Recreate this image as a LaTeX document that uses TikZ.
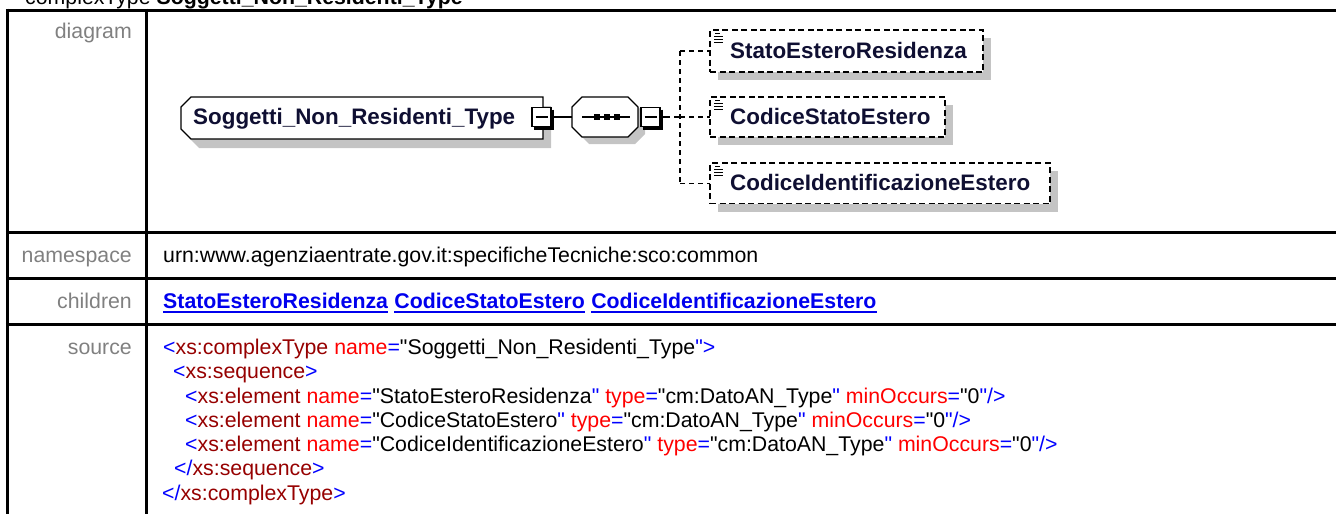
\documentclass[tikz,border=0pt]{standalone}
\usepackage{fontspec}
\newfontfamily\lsans{Liberation Sans}
\usetikzlibrary{calc}
\definecolor{xblue}{RGB}{0,0,255}
\definecolor{xdred}{RGB}{150,0,0}
\definecolor{xred}{RGB}{255,0,0}
\definecolor{lblgray}{RGB}{128,128,128}
\definecolor{shgray}{RGB}{196,196,196}
\definecolor{linkblue}{RGB}{0,0,238}
\definecolor{dtext}{RGB}{15,15,50}
\newcommand\tfont{\lsans\fontsize{21.3}{24.3}\selectfont}
\newcommand\dfont{\lsans\fontsize{22.4}{26}\selectfont\bfseries}
\newcommand\xop[1]{\textcolor{xblue}{<}\textcolor{xdred}{#1}}
\newcommand\xcl[1]{\textcolor{xblue}{</}\textcolor{xdred}{#1}\textcolor{xblue}{>}}
\newcommand\xat[2]{\textcolor{xred}{#1}\textcolor{xblue}{=}"#2\textcolor{xblue}{"}}
\pgfdeclarelayer{bg}
\pgfsetlayers{bg,main}
\begin{document}
\begin{tikzpicture}[x=1pt,y=-1pt,
  tbl/.style={line width=3pt,black},
  lbl/.style={anchor=base east,inner sep=0,text=lblgray,font=\tfont},
  txt/.style={anchor=base west,inner sep=0,font=\tfont},
  lnk/.style={anchor=base west,inner sep=0,font=\tfont\bfseries,text=linkblue},
  ulink/.style={line width=1.6pt,linkblue},
  ghost/.style={inner sep=0,outer sep=0,draw=none},
  boxline/.style={line width=1.2pt,black},
  dtxt/.style={anchor=base west,inner sep=0,font=\dfont,text=dtext},
  childbox/.style={draw,line width=1.2pt,dash pattern=on 6pt off 3.5pt,fill=white,inner sep=0,outer sep=0,anchor=north west},
  minusbox/.style={draw,line width=1.2pt,fill=white,inner sep=0,outer sep=0,minimum width=19,minimum height=19},
  conn/.style={line width=1.2pt,black},
  dconn/.style={line width=1.2pt,black,dash pattern=on 5pt off 4pt},
  shadowfill/.style={fill=shgray}
]
\useasboundingbox (0,0) rectangle (1336,514);
\clip (0,0) rectangle (1336,514);

% ---------- table ----------
\draw[tbl] (5.8,10) -- (1345,10);
\draw[tbl] (5.8,232.7) -- (1345,232.7);
\draw[tbl] (5.8,278.7) -- (1345,278.7);
\draw[tbl] (5.8,324.7) -- (1345,324.7);
\draw[tbl] (7.3,8.5) -- (7.3,520);
\draw[tbl] (146.7,8.5) -- (146.7,520);

\node[txt] (hdr) at (25,5) {complexType \textbf{Soggetti\_Non\_Residenti\_Type}};

\node[lbl] (ldiag) at (132,38.7) {diagram};
\node[lbl] (lns) at (132,262.8) {namespace};
\node[lbl] (lch) at (132,308.8) {children};
\node[lbl] (lsrc) at (132,354.4) {source};

\node[txt] (ns) at (163,262.8) {urn:www.agenziaentrate.gov.it:specificheTecniche:sco:common};

\node[lnk] (ch1) at (163,308.8) {StatoEsteroResidenza};
\node[lnk] (ch2) at ($(ch1.base east)+(5.9,0)$) {CodiceStatoEstero};
\node[lnk] (ch3) at ($(ch2.base east)+(5.9,0)$) {CodiceIdentificazioneEstero};
\foreach \n in {ch1,ch2,ch3}{
  \draw[ulink] ($(\n.base west)+(0,3)$) -- ($(\n.base east)+(0,3)$);
}

\node[txt] (s1) at (163,354.4) {\xop{xs:complexType} \xat{name}{Soggetti\_Non\_Residenti\_Type}\textcolor{xblue}{>}};
\node[txt] (s2) at (173,378.7) {\xop{xs:sequence}\textcolor{xblue}{>}};
\node[txt] (s3) at (185,403.0) {\xop{xs:element} \xat{name}{StatoEsteroResidenza} \xat{type}{cm:DatoAN\_Type} \xat{minOccurs}{0}\textcolor{xblue}{/>}};
\node[txt] (s4) at (185,427.3) {\xop{xs:element} \xat{name}{CodiceStatoEstero} \xat{type}{cm:DatoAN\_Type} \xat{minOccurs}{0}\textcolor{xblue}{/>}};
\node[txt] (s5) at (185,451.6) {\xop{xs:element} \xat{name}{CodiceIdentificazioneEstero} \xat{type}{cm:DatoAN\_Type} \xat{minOccurs}{0}\textcolor{xblue}{/>}};
\node[txt] (s6) at (174,475.9) {\xcl{xs:sequence}};
\node[txt] (s7) at (162,500.2) {\xcl{xs:complexType}};

% ---------- diagram ----------
\node[ghost,minimum width=362,minimum height=42] (root) at (362,118) {};
\node[ghost,minimum width=66,minimum height=40] (seq) at (605,117) {};

\begin{pgfonlayer}{bg}
  \fill[shadowfill] ($(root.north west)+(18,9)$) -- ($(root.north east)+(8,9)$) -- ($(root.south east)+(8,9)$)
    -- ($(root.south west)+(18,9)$) -- ($(root.south west)+(8,-1)$) -- ($(root.north west)+(8,19)$) -- cycle;
  \fill[shadowfill] ($(seq.north west)+(17,7)$) -- ($(seq.north east)+(-3,7)$) -- ($(seq.north east)+(7,17)$)
    -- ($(seq.south east)+(7,-3)$) -- ($(seq.south east)+(-3,7)$) -- ($(seq.south west)+(17,7)$)
    -- ($(seq.south west)+(7,-3)$) -- ($(seq.north west)+(7,17)$) -- cycle;
\end{pgfonlayer}

\draw[boxline,fill=white] ($(root.north west)+(10,0)$) -- (root.north east) -- (root.south east)
  -- ($(root.south west)+(10,0)$) -- ($(root.south west)+(0,-10)$) -- ($(root.north west)+(0,10)$) -- cycle;
\node[dtxt] (roottxt) at (193,124.5) {Soggetti\_Non\_Residenti\_Type};

\draw[boxline,fill=white] ($(seq.north west)+(10,0)$) -- ($(seq.north east)+(-10,0)$) -- ($(seq.north east)+(0,10)$)
  -- ($(seq.south east)+(0,-10)$) -- ($(seq.south east)+(-10,0)$) -- ($(seq.south west)+(10,0)$)
  -- ($(seq.south west)+(0,-10)$) -- ($(seq.north west)+(0,10)$) -- cycle;
\coordinate (sqa) at ($(seq.west)+(10,0)$);
\coordinate (sqb) at ($(seq.east)+(-8,0)$);
\draw[conn] (sqa) -- (sqb);
\foreach \dx in {-8,2,12}{
  \fill ($(seq.center)+(\dx-2.7,-2.7)$) rectangle ($(seq.center)+(\dx+2.7,2.7)$);
}

\node[minusbox] (mb1) at (541.5,117) {};
\node[minusbox] (mb2) at (650.5,117) {};
\draw[conn] (mb1.east) -- (seq.west);
\foreach \m in {mb1,mb2}{
  \draw[line width=3pt] ($(\m.north east)+(1.5,2)$) -- ($(\m.south east)+(1.5,1.5)$) -- ($(\m.south west)+(2,1.5)$);
  \draw[line width=1.3pt] ($(\m.center)+(-6,0)$) -- ($(\m.center)+(6,0)$);
}

\node[childbox,minimum width=273,minimum height=42] (c1) at (710,30) {};
\node[childbox,minimum width=235,minimum height=40] (c2) at (710,97) {};
\node[childbox,minimum width=340,minimum height=40.5] (c3) at (710,163) {};
\begin{pgfonlayer}{bg}
  \foreach \c in {c1,c2,c3}{
    \fill[shadowfill] ($(\c.north west)+(8,8)$) rectangle ($(\c.south east)+(8,8)$);
  }
\end{pgfonlayer}
\node[dtxt] (t1) at (730,58.3) {StatoEsteroResidenza};
\node[dtxt] (t2) at (730,124) {CodiceStatoEstero};
\node[dtxt] (t3) at (730,190) {CodiceIdentificazioneEstero};
\foreach \c in {c1,c2,c3}{
  \draw[line width=1pt] ($(\c.north west)+(5,3.5)$) -- ($(\c.north west)+(10,3.5)$);
  \draw[line width=1pt] ($(\c.north west)+(4,6.5)$) -- ($(\c.north west)+(13,6.5)$);
  \draw[line width=1pt] ($(\c.north west)+(4,9.5)$) -- ($(\c.north west)+(13,9.5)$);
  \draw[line width=1pt] ($(\c.north west)+(4,12.5)$) -- ($(\c.north west)+(13,12.5)$);
}

\coordinate (j1) at ($(c1.west)+(-30,0)$);
\coordinate (j2) at ($(c2.west)+(-30,0)$);
\coordinate (j3) at ($(c3.west)+(-30,0)$);
\draw[conn] (mb2.east) -- ++(5,0);
\draw[dconn] (j1) -- (j3);
\draw[dconn] (j1) -- (c1.west);
\draw[dconn] (j2) -- (c2.west);
\draw[dconn] (j3) -- (c3.west);
\draw[dconn] ($(mb2.east)+(5,0)$) -- (j2);
\end{tikzpicture}
\end{document}
